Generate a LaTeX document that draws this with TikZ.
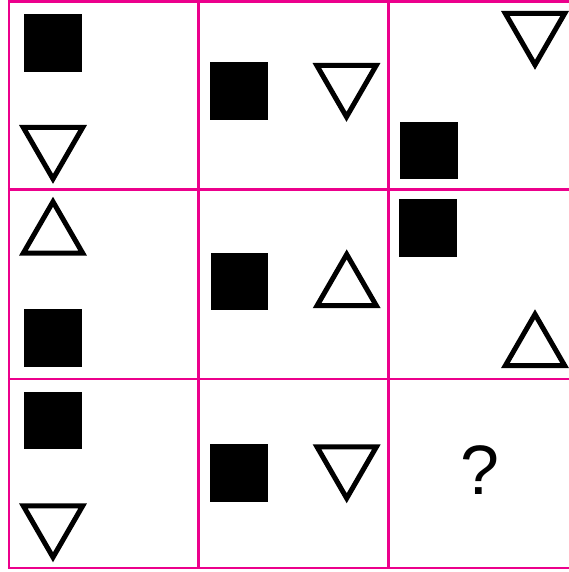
\documentclass[tikz,border=0pt]{standalone}
\usepackage{fontspec}
\setmainfont{Liberation Sans}
\usetikzlibrary{shapes.geometric}
\definecolor{mag}{RGB}{236,0,140}

\begin{document}
\begin{tikzpicture}[x=1pt,y=-1pt,
 sq/.style={fill=black,minimum size=57.5pt,inner sep=0pt},
 tri/.style={draw,regular polygon,regular polygon sides=3,minimum size=68.5pt,inner sep=0pt,line width=5pt},
 dn/.style={tri,shape border rotate=180}]
\useasboundingbox (0,0) rectangle (569,572);
\foreach \x in {9,198.7,388.3} \draw[mag,line width=2.5pt] (\x,0.3) -- (\x,569.2);
\foreach \y in {1.5,189.3,379,568} \draw[mag,line width=2.5pt] (7.75,\y) -- (569,\y);
% row 1
\node[sq] (s1) at (53,43) {};
\node[dn] (t1) at (53,144.6) {};
\node[sq] (s2) at (239,91) {};
\node[dn] (t2) at (346.5,82.6) {};
\node[dn] (t3) at (535,30.6) {};
\node[sq] (s3) at (429,150.5) {};
% row 2
\node[tri] (t4) at (53,236) {};
\node[sq] (s4) at (53,338) {};
\node[sq] (s5) at (239.3,281.3) {};
\node[tri] (t5) at (346.7,288.6) {};
\node[sq] (s6) at (428,228) {};
\node[tri] (t6) at (535,348.5) {};
% row 3
\node[sq] (s7) at (53,420.5) {};
\node[dn] (t7) at (53,523) {};
\node[sq] (s8) at (239,473) {};
\node[dn] (t8) at (346.7,464) {};
\node[font=\fontsize{70}{70}\selectfont,inner sep=0pt] (q) at (480,470) {?};
\end{tikzpicture}
\end{document}
